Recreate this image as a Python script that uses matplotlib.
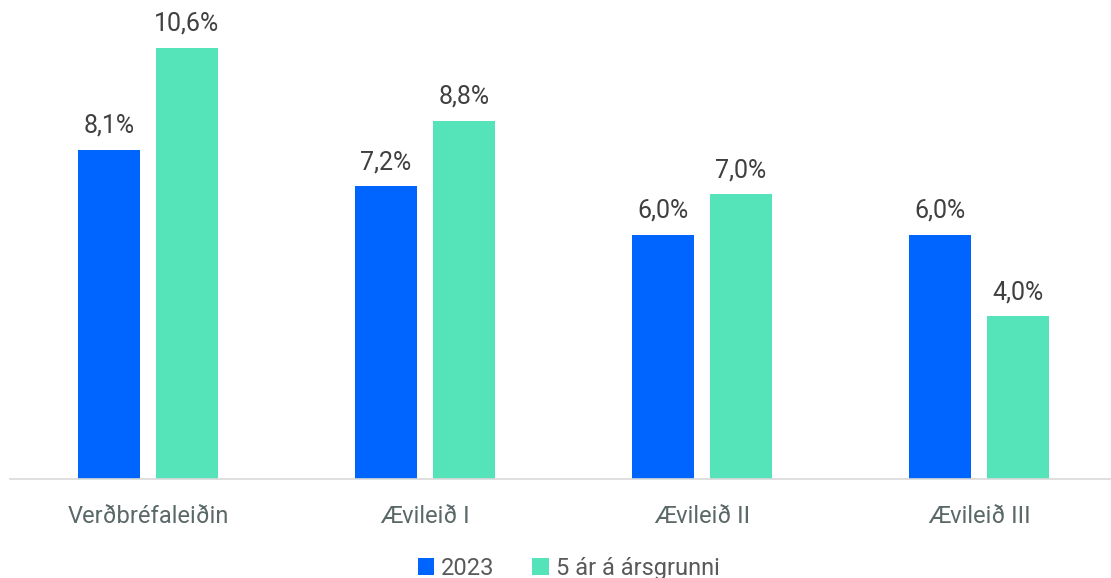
import matplotlib.pyplot as plt
import numpy as np

categories = ["Verðbréfaleiðin", "Ævileið I", "Ævileið II", "Ævileið III"]
vals_2023 = [8.1, 7.2, 6.0, 6.0]
vals_5ar = [10.6, 8.8, 7.0, 4.0]
series_names = ["2023", "5 ár á ársgrunni"]
blue = "#0064FF"
green = "#55E3B9"

plt.rcParams['font.family'] = ['Roboto', 'DejaVu Sans']

fig = plt.figure(figsize=(11.11, 5.78), dpi=100)
ax = fig.add_axes([9.5 / 1111, 99 / 578, 1108 / 1111, 479 / 578])

x = np.arange(len(categories))
w = 0.224
off = 0.141
b1 = ax.bar(x - off, vals_2023, w, color=blue, label=series_names[0])
b2 = ax.bar(x + off, vals_5ar, w, color=green, label=series_names[1])

for bars, vals in [(b1, vals_2023), (b2, vals_5ar)]:
    for r, v in zip(bars, vals):
        ax.text(r.get_x() + r.get_width() / 2, v + 0.3, f"{v:.1f}%".replace(".", ","),
                ha="center", va="bottom", fontsize=18, color="#404040")

ax.set_xlim(-0.5, 3.5)
ax.set_ylim(0, 11.78)
ax.set_yticks([])
ax.set_xticks(x)
ax.set_xticklabels(categories, fontsize=17, color="#5b6868")
ax.tick_params(axis="x", length=0, pad=19)
for s in ["top", "right", "left"]:
    ax.spines[s].set_visible(False)
ax.spines["bottom"].set_color("#d9d9d9")
ax.spines["bottom"].set_linewidth(1.2)

fig.legend(loc="lower center", bbox_to_anchor=(0.512, -0.032), ncol=2, frameon=False,
           fontsize=17, labelcolor="#595959", handlelength=0.7, handleheight=0.7,
           handletextpad=0.3, columnspacing=1.6, borderaxespad=0.3)

fig.savefig("out.png", dpi=100)
